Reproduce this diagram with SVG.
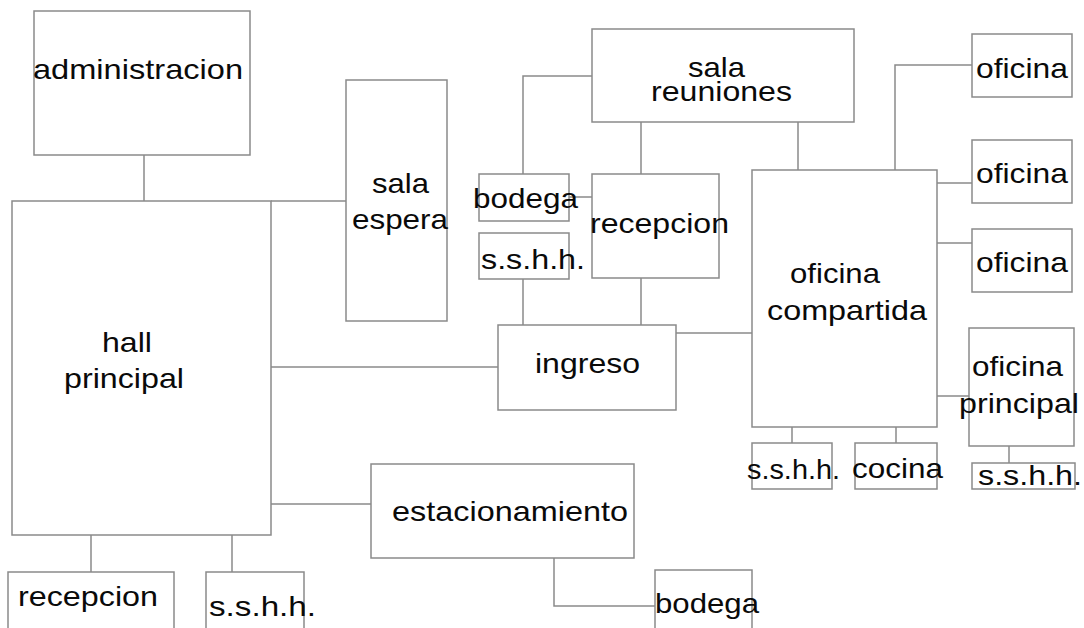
<svg xmlns="http://www.w3.org/2000/svg" width="1084" height="628" viewBox="0 0 1084 628">
<style>
.box{fill:#fff;stroke:#8a8a8a;stroke-width:1.5}
.lnk{fill:none;stroke:#8a8a8a;stroke-width:1.5}
text{font-family:"Liberation Sans",Arial,sans-serif;font-size:28px;fill:#0a0a0a}
</style>
<rect width="1084" height="628" fill="#fff"/>
<g id="connectors">
<path class="lnk" d="M144,155 V201"/>
<path class="lnk" d="M271,201 H346"/>
<path class="lnk" d="M271,367 H498"/>
<path class="lnk" d="M271,504 H371"/>
<path class="lnk" d="M91,535 V572"/>
<path class="lnk" d="M232,535 V572"/>
<path class="lnk" d="M554,558 V606 H655"/>
<path class="lnk" d="M592,76 H523 V174"/>
<path class="lnk" d="M641,122 V174"/>
<path class="lnk" d="M569,197 H592"/>
<path class="lnk" d="M523,279 V325"/>
<path class="lnk" d="M641,278 V325"/>
<path class="lnk" d="M676,333 H752"/>
<path class="lnk" d="M798,122 V170"/>
<path class="lnk" d="M895,170 V65 H972"/>
<path class="lnk" d="M937,183 H972"/>
<path class="lnk" d="M937,243 H972"/>
<path class="lnk" d="M937,396 H969"/>
<path class="lnk" d="M792,427 V443"/>
<path class="lnk" d="M896,427 V443"/>
<path class="lnk" d="M1009,446 V463"/>
</g>
<g id="administracion"><rect class="box" x="34" y="11" width="216" height="144"/><text x="33" y="79" textLength="210" lengthAdjust="spacingAndGlyphs">administracion</text></g>
<g id="hall-principal"><rect class="box" x="12" y="201" width="259" height="334"/><text x="102" y="352" textLength="50" lengthAdjust="spacingAndGlyphs">hall</text><text x="64" y="388" textLength="120" lengthAdjust="spacingAndGlyphs">principal</text></g>
<g id="sala-espera"><rect class="box" x="346" y="80" width="101" height="241"/><text x="372" y="193" textLength="57" lengthAdjust="spacingAndGlyphs">sala</text><text x="352" y="229" textLength="96" lengthAdjust="spacingAndGlyphs">espera</text></g>
<g id="sala-reuniones"><rect class="box" x="592" y="29" width="262" height="93"/><text x="688" y="77" textLength="57" lengthAdjust="spacingAndGlyphs">sala</text><text x="651" y="101" textLength="141" lengthAdjust="spacingAndGlyphs">reuniones</text></g>
<g id="bodega-1"><rect class="box" x="479" y="174" width="90" height="47"/><text x="473" y="208" textLength="105" lengthAdjust="spacingAndGlyphs">bodega</text></g>
<g id="sshh-1"><rect class="box" x="479" y="233" width="90" height="46"/><text x="481" y="269" textLength="104" lengthAdjust="spacingAndGlyphs">s.s.h.h.</text></g>
<g id="recepcion-1"><rect class="box" x="592" y="174" width="127" height="104"/><text x="590" y="233" textLength="139" lengthAdjust="spacingAndGlyphs">recepcion</text></g>
<g id="ingreso"><rect class="box" x="498" y="325" width="178" height="85"/><text x="535" y="373" textLength="105" lengthAdjust="spacingAndGlyphs">ingreso</text></g>
<g id="oficina-compartida"><rect class="box" x="752" y="170" width="185" height="257"/><text x="790" y="283" textLength="90" lengthAdjust="spacingAndGlyphs">oficina</text><text x="767" y="320" textLength="160" lengthAdjust="spacingAndGlyphs">compartida</text></g>
<g id="oficina-1"><rect class="box" x="972" y="34" width="100" height="63"/><text x="976" y="78" textLength="92" lengthAdjust="spacingAndGlyphs">oficina</text></g>
<g id="oficina-2"><rect class="box" x="972" y="140" width="100" height="63"/><text x="976" y="183" textLength="92" lengthAdjust="spacingAndGlyphs">oficina</text></g>
<g id="oficina-3"><rect class="box" x="972" y="229" width="100" height="63"/><text x="976" y="272" textLength="92" lengthAdjust="spacingAndGlyphs">oficina</text></g>
<g id="oficina-principal"><rect class="box" x="969" y="328" width="105" height="118"/><text x="972" y="376" textLength="91" lengthAdjust="spacingAndGlyphs">oficina</text><text x="959" y="413" textLength="120" lengthAdjust="spacingAndGlyphs">principal</text></g>
<g id="sshh-2"><rect class="box" x="752" y="443" width="80" height="46"/><text x="747" y="479" textLength="93" lengthAdjust="spacingAndGlyphs">s.s.h.h.</text></g>
<g id="cocina"><rect class="box" x="855" y="443" width="82" height="46"/><text x="852" y="478" textLength="91" lengthAdjust="spacingAndGlyphs">cocina</text></g>
<g id="sshh-3"><rect class="box" x="972" y="463" width="103" height="26"/><text x="978" y="485" textLength="104" lengthAdjust="spacingAndGlyphs">s.s.h.h.</text></g>
<g id="estacionamiento"><rect class="box" x="371" y="464" width="263" height="94"/><text x="392" y="521" textLength="236" lengthAdjust="spacingAndGlyphs">estacionamiento</text></g>
<g id="bodega-2"><rect class="box" x="655" y="570" width="97" height="80"/><text x="655" y="613" textLength="104" lengthAdjust="spacingAndGlyphs">bodega</text></g>
<g id="recepcion-2"><rect class="box" x="8" y="572" width="166" height="80"/><text x="18" y="606" textLength="140" lengthAdjust="spacingAndGlyphs">recepcion</text></g>
<g id="sshh-4"><rect class="box" x="206" y="572" width="98" height="80"/><text x="209" y="616" textLength="107" lengthAdjust="spacingAndGlyphs">s.s.h.h.</text></g>
</svg>
